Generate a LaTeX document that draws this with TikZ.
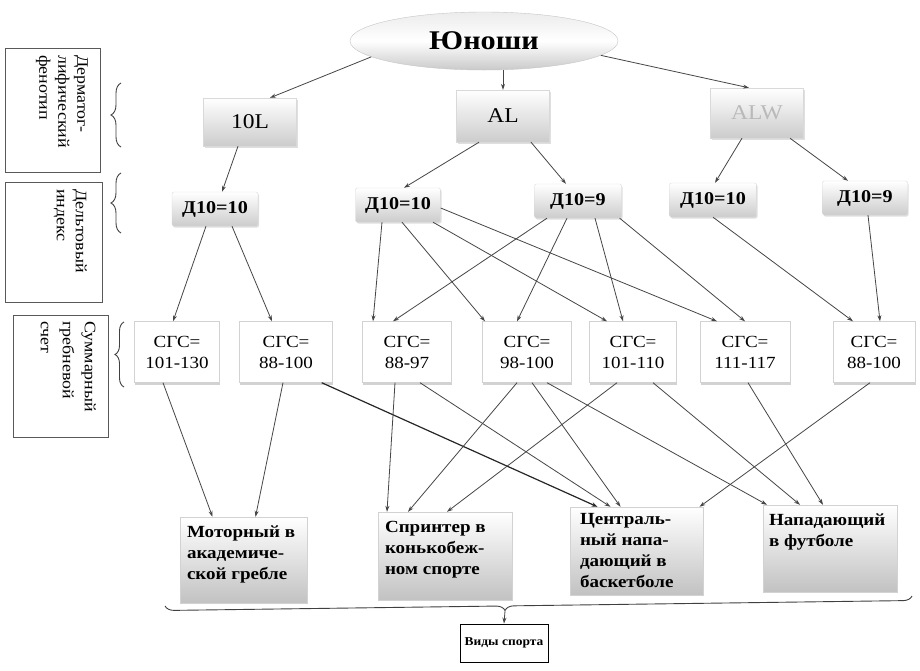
\documentclass[tikz,border=0pt]{standalone}
\usepackage{fontspec}
\setmainfont{Liberation Serif}[FakeStretch=1.12]
\usetikzlibrary{calc,shadows,decorations.pathreplacing,arrows.meta,shapes.geometric}

\begin{document}
\begin{tikzpicture}[x=1pt,y=-1pt,
  arr/.style={draw=gray!55!black, line width=0.8pt, -{Stealth[length=6pt,width=4pt]}},
  arrd/.style={draw=black!85, line width=1.2pt, -{Stealth[length=6pt,width=4.5pt]}},
  gbox/.style={rectangle, draw=gray!30, top color=white, bottom color=gray!40, inner sep=0pt,
    drop shadow={opacity=0.25,shadow xshift=1pt,shadow yshift=-1.5pt}},
  dbox/.style={gbox, rounded corners=2pt, font=\fontsize{18}{20}\selectfont\bfseries},
  topbox/.style={gbox, font=\fontsize{21}{24}\selectfont},
  cbox/.style={rectangle, draw=gray!35, fill=white, inner sep=0pt, align=center,
    font=\fontsize{17}{21}\selectfont,
    drop shadow={opacity=0.35,shadow xshift=0.5pt,shadow yshift=-2pt}},
  sbox/.style={rectangle, draw=gray!35, top color=white, bottom color=gray!48, inner sep=0pt},
  stxt/.style={font=\fontsize{17}{21}\selectfont\bfseries, align=left, inner sep=0pt, anchor=north west},
  lbox/.style={rectangle, draw=gray!70!black, line width=0.9pt, fill=white, inner sep=0pt},
  ltxt/.style={font=\fontsize{16}{19}\selectfont, align=left, inner sep=0pt, rotate=-90, anchor=north west},
  brc/.style={draw=gray!50!black, line width=0.9pt, decorate}
]
\useasboundingbox (0,0) rectangle (920,670);
\fill[white] (0,0) rectangle (920,670);

% left label boxes
\node[lbox, minimum width=95, minimum height=124] (L1) at (52.5,110) {};
\node[ltxt] (L1t) at (88,55) {Дерматог-\\лифический\\фенотип};
\node[lbox, minimum width=97, minimum height=120] (L2) at (53.5,242) {};
\node[ltxt] (L2t) at (87,189) {Дельтовый\\индекс};
\node[lbox, minimum width=95, minimum height=122] (L3) at (60.5,376) {};
\node[ltxt, font=\fontsize{16}{22}\selectfont] (L3t) at (96,321) {Суммарный\\гребневой\\счет};

% braces
\draw[brc, decoration={brace, amplitude=10pt}] (121,147) -- (121,83);
\draw[brc, decoration={brace, amplitude=10pt}] (121,233) -- (121,173);
\draw[brc, decoration={brace, amplitude=9pt}] (124,387) -- (124,322);

% top ellipse
\node[ellipse, minimum width=268, minimum height=58, draw=gray!45, top color=gray!15,
  bottom color=gray!42, middle color=white, inner sep=0pt,
  font=\fontsize{27}{30}\selectfont\bfseries] (yun) at (484,41) {Юноши};

% phenotype row
\node[topbox, minimum width=93, minimum height=48] (n10L) at (250,122) {10L};
\node[topbox, minimum width=93, minimum height=52] (AL) at (503,116) {AL};
\node[topbox, minimum width=93, minimum height=50, text=gray!55] (ALW) at (757,113) {ALW};

% delta row
\node[dbox, minimum width=86, minimum height=34] (dA) at (215,209) {Д10=10};
\node[dbox, minimum width=85, minimum height=34] (dB) at (398,205) {Д10=10};
\node[dbox, minimum width=87, minimum height=34] (dC) at (578,201) {Д10=9};
\node[dbox, minimum width=87, minimum height=34] (dD) at (713,200) {Д10=10};
\node[dbox, minimum width=85, minimum height=34] (dE) at (865,198) {Д10=9};

% ridge count row
\node[cbox, minimum width=85, minimum height=61] (c1) at (177,352) {СГС=\\101-130};
\node[cbox, minimum width=93, minimum height=61] (c2) at (286,352) {СГС=\\88-100};
\node[cbox, minimum width=89, minimum height=61] (c3) at (407,352) {СГС=\\88-97};
\node[cbox, minimum width=89, minimum height=61] (c4) at (527,352) {СГС=\\98-100};
\node[cbox, minimum width=87, minimum height=61] (c5) at (633,352) {СГС=\\101-110};
\node[cbox, minimum width=90, minimum height=61] (c6) at (745,352) {СГС=\\111-117};
\node[cbox, minimum width=82, minimum height=61] (c7) at (874,352) {СГС=\\88-100};

% sport boxes
\node[sbox, minimum width=127, minimum height=86] (s1) at (243.5,560) {};
\node[sbox, minimum width=134, minimum height=88] (s2) at (445,556) {};
\node[sbox, minimum width=133, minimum height=88] (s3) at (636.5,551) {};
\node[sbox, minimum width=134, minimum height=87] (s4) at (830,548.5) {};
\node[stxt] (s1t) at ($(s1.north west)+(7,9)$) {Моторный в\\академиче-\\ской гребле};
\node[stxt] (s2t) at ($(s2.north west)+(7,9)$) {Спринтер в\\конькобеж-\\ном спорте};
\node[stxt] (s3t) at ($(s3.north west)+(10,6)$) {Централь-\\ный напа-\\дающий в\\баскетболе};
\node[stxt] (s4t) at ($(s4.north west)+(6,9)$) {Нападающий\\в футболе};

% bottom brace and label
\draw[brc, decoration={brace, amplitude=9pt, aspect=0.545}] (912,596) -- (165,606);
\coordinate (bt) at (505,611);
\node[rectangle, draw=black, line width=0.9pt, fill=white, minimum width=88, minimum height=38,
  inner sep=0pt, font=\fontsize{12}{14}\selectfont\bfseries] (vs) at (504,643) {Виды спорта};
\draw[arr] (bt) -- (vs.north);

% edges from ellipse
\draw[arr] (yun.188) -- ($(n10L.north)+(20,0)$);
\draw[arr] (yun.south -| AL.north) -- (AL.north);
\draw[arr] (yun.353) -- ($(ALW.north)+(-8,0)$);

% phenotype -> delta
\draw[arr] ($(n10L.south)+(-12,0)$) -- ($(dA.north)+(7,0)$);
\draw[arr] ($(AL.south)+(-24,0)$) -- ($(dB.north)+(6,0)$);
\draw[arr] ($(AL.south)+(28,0)$) -- ($(dC.north)+(-12,0)$);
\draw[arr] ($(ALW.south)+(-15,0)$) -- ($(dD.north)+(2,0)$);
\draw[arr] ($(ALW.south)+(33,0)$) -- ($(dE.north)+(-17,0)$);

% delta -> ridge count
\draw[arr] ($(dA.south)+(-9,0)$) -- ($(c1.north)+(-4,0)$);
\draw[arr] ($(dA.south)+(17,0)$) -- ($(c2.north)+(-14,0)$);
\draw[arr] ($(dB.south)+(-16,0)$) -- ($(c3.north)+(-34,0)$);
\draw[arr] ($(dB.south)+(4,0)$) -- ($(c4.north)+(-42,0)$);
\draw[arr] ($(dB.south)+(35,0)$) -- ($(c5.north)+(-26,0)$);
\draw[arr] ($(dB.east)+(0,3)$) -- ($(c6.north)+(-28,0)$);
\draw[arr] ($(dC.south)+(-31,0)$) -- ($(c3.north)+(-14,0)$);
\draw[arr] ($(dC.south)+(-11,0)$) -- ($(c4.north)+(-10,0)$);
\draw[arr] ($(dC.south)+(17,0)$) -- ($(c5.north)+(-10,0)$);
\draw[arr] ($(dC.south east)+(-2,0)$) -- (c6.north);
\draw[arr] (dD.south) -- ($(c7.north)+(-21,0)$);
\draw[arr] ($(dE.south)+(3,0)$) -- ($(c7.north)+(6,0)$);

% ridge count -> sport
\draw[arr] ($(c1.south)+(-14,0)$) -- ($(s1.north)+(-31,0)$);
\draw[arr] ($(c2.south)+(-3,0)$) -- ($(s1.north)+(12,0)$);
\draw[arrd] ($(c2.south east)+(-11,0)$) -- ($(s3.north)+(-39,0)$);
\draw[arr] ($(c3.south)+(-12,0)$) -- ($(s2.north)+(-58,0)$);
\draw[arr] ($(c3.south)+(13,0)$) -- ($(s3.north)+(-26,0)$);
\draw[arr] ($(c4.south)+(-10,0)$) -- ($(s2.north)+(-37,0)$);
\draw[arr] ($(c4.south)+(5,0)$) -- ($(s3.north)+(-16,0)$);
\draw[arr] ($(c4.south)+(20,0)$) -- ($(s4.north)+(-63,0)$);
\draw[arr] ($(c5.south)+(-16,0)$) -- ($(s2.north)+(2,0)$);
\draw[arr] ($(c5.south)+(20,0)$) -- ($(s4.north)+(-30,0)$);
\draw[arr] ($(c6.south)+(3,0)$) -- ($(s4.north)+(-7,0)$);
\draw[arr] ($(c7.south)+(-4,0)$) -- ($(s3.north)+(63,0)$);
\end{tikzpicture}
\end{document}
